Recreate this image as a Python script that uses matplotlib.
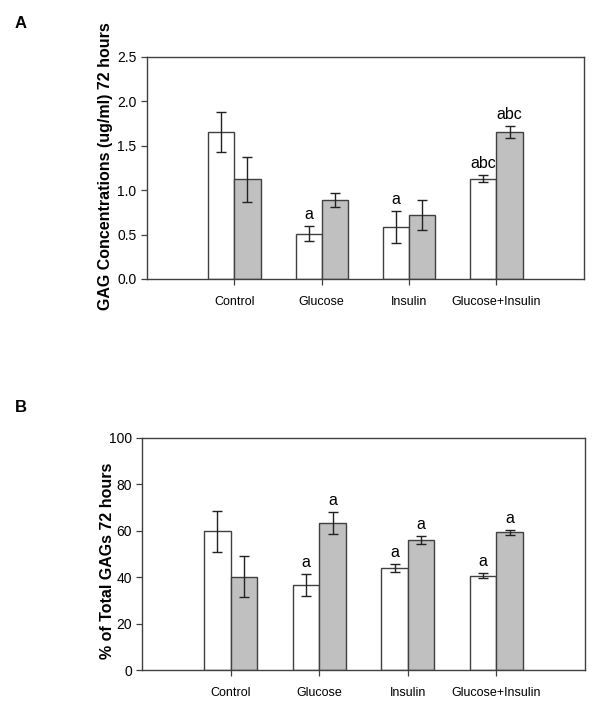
import numpy as np
import matplotlib
matplotlib.use("Agg")
import matplotlib.pyplot as plt

plt.rcParams['font.family'] = ['Liberation Sans', 'DejaVu Sans']

groups = ["Control", "Glucose", "Insulin", "Glucose+Insulin"]

# panel A: GAG concentration (ug/ml) at 72 hours
conc_white = [1.65, 0.51, 0.58, 1.13]
conc_white_err = [0.225, 0.085, 0.18, 0.043]
conc_gray = [1.12, 0.89, 0.72, 1.65]
conc_gray_err = [0.255, 0.08, 0.165, 0.068]
conc_white_marks = ["", "a", "a", "abc"]
conc_gray_marks = ["", "", "", "abc"]

# panel B: % of total GAGs at 72 hours
pct_white = [59.7, 36.5, 44.0, 40.7]
pct_white_err = [8.9, 4.8, 1.8, 1.0]
pct_gray = [40.3, 63.5, 56.0, 59.3]
pct_gray_err = [9.0, 4.7, 1.8, 1.0]
pct_white_marks = ["", "a", "a", "a"]
pct_gray_marks = ["", "a", "a", "a"]

edge = '#404040'


def draw_panel(ax, white, white_err, gray, gray_err, wmarks, gmarks,
               ylim, yticks, fmt, ylabel, label_xy):
    x = np.arange(1, len(groups) + 1)
    w = 0.3
    ax.bar(x - w / 2, white, w, color='white', edgecolor=edge, linewidth=1.0)
    ax.bar(x + w / 2, gray, w, color='#c0c0c0', edgecolor=edge, linewidth=1.0)
    ax.errorbar(x - w / 2, white, yerr=white_err, fmt='none', ecolor='#222222',
                elinewidth=1.0, capsize=3.5, capthick=1.0)
    ax.errorbar(x + w / 2, gray, yerr=gray_err, fmt='none', ecolor='#222222',
                elinewidth=1.0, capsize=3.5, capthick=1.0)

    for xs, vals, errs, marks in ((x - w / 2, white, white_err, wmarks),
                                  (x + w / 2, gray, gray_err, gmarks)):
        for xi, v, e, m in zip(xs, vals, errs, marks):
            if m:
                ax.annotate(m, (xi, v + e), xytext=(0, 3), textcoords='offset points',
                            ha='center', va='bottom', fontsize=11.5)

    ax.set_xlim(0, len(groups) + 1)
    ax.set_ylim(*ylim)
    ax.set_yticks(yticks)
    ax.set_yticklabels([fmt.format(t) for t in yticks], fontsize=10)
    ax.set_xticks(x)
    ax.set_xticklabels(groups, fontsize=9)
    ax.tick_params(axis='both', direction='out', length=4, width=0.9, color=edge)
    ax.tick_params(axis='x', pad=8)
    for s in ax.spines.values():
        s.set_color(edge)
        s.set_linewidth(1.0)
    ax.set_ylabel(ylabel, fontsize=11.5, fontweight='bold')
    ax.yaxis.set_label_coords(*label_xy)


fig = plt.figure(figsize=(6.0, 7.19), dpi=100)

ax1 = fig.add_axes([0.245, 0.612, 0.728, 0.309])
draw_panel(ax1, conc_white, conc_white_err, conc_gray, conc_gray_err,
           conc_white_marks, conc_gray_marks, (0, 2.5),
           [0.0, 0.5, 1.0, 1.5, 2.0, 2.5], "{:.1f}",
           "GAG Concentrations (ug/ml) 72 hours", (-0.078, 0.51))

ax2 = fig.add_axes([0.237, 0.068, 0.738, 0.323])
draw_panel(ax2, pct_white, pct_white_err, pct_gray, pct_gray_err,
           pct_white_marks, pct_gray_marks, (0, 100),
           [0, 20, 40, 60, 80, 100], "{:.0f}",
           "% of Total GAGs 72 hours", (-0.062, 0.47))

fig.text(15 / 600, 1 - 24 / 719, "A", fontsize=12, fontweight='bold', ha='left', va='center')
fig.text(15 / 600, 1 - 407 / 719, "B", fontsize=12, fontweight='bold', ha='left', va='center')

fig.savefig("out.png", dpi=100)
